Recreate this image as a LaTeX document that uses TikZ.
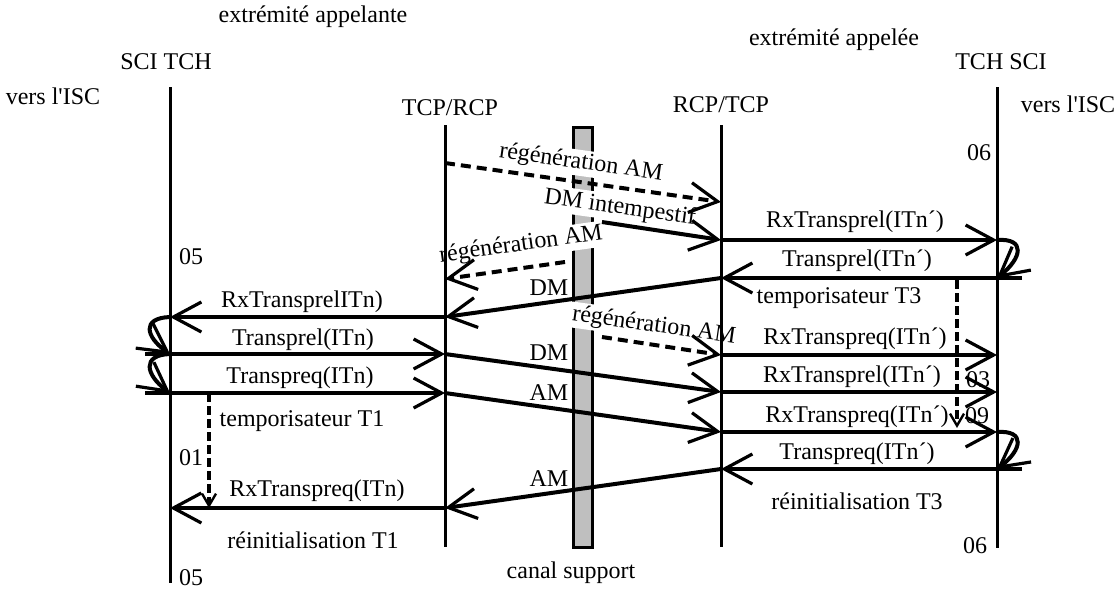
\documentclass[tikz,border=0pt]{standalone}
\usepackage{fontspec}
\setmainfont{Liberation Serif}[Ligatures=TeXOff]
\usetikzlibrary{arrows.meta}

\tikzset{
  life/.style={line width=1.5pt},
  msg/.style={line width=2pt,-{Straight Barb[length=14pt,width=15pt,line width=1.6pt]}},
  regen/.style={msg,dash pattern=on 5pt off 3pt},
  timer/.style={line width=1.6pt,dash pattern=on 4.5pt off 2pt,-{Straight Barb[length=6pt,width=7pt,line width=1.2pt]}},
  canal/.style={line width=1.5pt,fill=black!25},
  onbar/.style={fill=white,inner sep=1pt}
}

\begin{document}
\begin{tikzpicture}[x=0.5pt,y=-0.5pt,font=\fontsize{12}{14}\selectfont]
  \useasboundingbox (0,0) rectangle (1120,591);

  \foreach \n/\x/\t/\b in {A/170/87/583, B/445/125/547, C/721/125/547, D/997/87/548} {
    \coordinate (\n top) at (\x,\t);
    \coordinate (\n bot) at (\x,\b);
  }

  \foreach \n/\x/\y in {b1/445/163, c1/721/202, s1/602/222, c2/721/240, d2/997/240,
      d3/997/278, d3o/1022/278, c3/721/278, s2/565/262, b2/445/279, b4/445/317,
      a4/170/317, a5/170/354, a5o/145/354, b5/445/354, c6/721/392, a6/170/393,
      a6o/145/393, b6/445/393, c7/721/432, s3/602/337, c5/721/355, d5/997/355,
      d6/997/392, d7/997/432, d8/997/469, d8o/1022/469, c8/721/469, b9/445/508,
      a9/170/508, t1a/209/393, t1b/209/508, t3a/957/280, t3b/957/428}
    \coordinate (\n) at (\x,\y);

  \draw[canal] (573,127) rectangle (592,547);

  \node (regenA) at (581,163) [onbar,rotate=-8] {régénération AM};
  \node (intemp) at (620,208) [onbar,rotate=-8] {DM intempestif};
  \node (regenB) at (521,245) [onbar,rotate=8] {régénération AM};
  \node (regenC) at (654,326) [onbar,rotate=-8] {régénération AM};

  \foreach \n in {A,B,C,D}
    \draw[life] (\n top) -- (\n bot);

  \draw[regen] (b1) -- (c1);
  \draw[msg] (s1) -- (c2);
  \draw[msg] (c2) -- (d2);
  \draw[msg] (d2) .. controls (1026,238) and (1022,258) .. (d3);
  \draw[msg] (d3o) -- (c3);
  \draw[regen] (s2) -- (b2);
  \draw[msg] (c3) -- (b4);
  \draw[msg] (b4) -- (a4);
  \draw[msg] (a4) .. controls (141,318) and (146,337) .. (a5);
  \draw[msg] (a5o) -- (b5);
  \draw[msg] (a5) .. controls (141,355) and (146,375) .. (a6);
  \draw[msg] (a6o) -- (b6);
  \draw[msg] (b5) -- (c6);
  \draw[msg] (b6) -- (c7);
  \draw[regen] (s3) -- (c5);
  \draw[msg] (c5) -- (d5);
  \draw[msg] (c6) -- (d6);
  \draw[msg] (c7) -- (d7);
  \draw[msg] (d7) .. controls (1026,430) and (1022,450) .. (d8);
  \draw[msg] (d8o) -- (c8);
  \draw[msg] (c8) -- (b9);
  \draw[msg] (b9) -- (a9);
  \draw[timer] (t1a) -- (t1b);
  \draw[timer] (t3a) -- (t3b);

  \node (endL) at (313,17) {extrémité appelante};
  \node (endR) at (834,40) {extrémité appelée};
  \node (headA) at (166,62) {SCI TCH};
  \node (headD) at (1001,62) {TCH SCI};
  \node (headB) at (450,108) {TCP/RCP};
  \node (headC) at (721,105) {RCP/TCP};
  \node (iscL) at (53,96) {vers l'ISC};
  \node (iscR) at (1068,104) {vers l'ISC};
  \node (canal) at (571,573) {canal support};

  \node (stA) at (979,153) {06};
  \node (stB) at (191,257) {05};
  \node (stC) at (978,380) {03};
  \node (stD) at (977,416) {09};
  \node (stE) at (191,458) {01};
  \node (stF) at (975,546) {06};
  \node (stG) at (191,578) {05};

  \node (dmA) at (549,288) {DM};
  \node (dmB) at (549,353) {DM};
  \node (amA) at (549,393) {AM};
  \node (amB) at (549,479) {AM};

  \node (rxA) at (855,222) {RxTransprel(ITn´)};
  \node (trA) at (857,261) {Transprel(ITn´)};
  \node (tmT3) at (839,298) {temporisateur T3};
  \node (rxB) at (855,339) {RxTranspreq(ITn´)};
  \node (rxC) at (852,377) {RxTransprel(ITn´)};
  \node (rxD) at (857,417) {RxTranspreq(ITn´)};
  \node (trB) at (857,454) {Transpreq(ITn´)};
  \node (riT3) at (857,501) {réinitialisation T3};

  \node (rxE) at (302,302) {RxTransprelITn)};
  \node (trC) at (303,340) {Transprel(ITn)};
  \node (trD) at (300,378) {Transpreq(ITn)};
  \node (tmT1) at (302,421) {temporisateur T1};
  \node (rxF) at (317,491) {RxTranspreq(ITn)};
  \node (riT1) at (313,540) {réinitialisation T1};
\end{tikzpicture}
\end{document}
